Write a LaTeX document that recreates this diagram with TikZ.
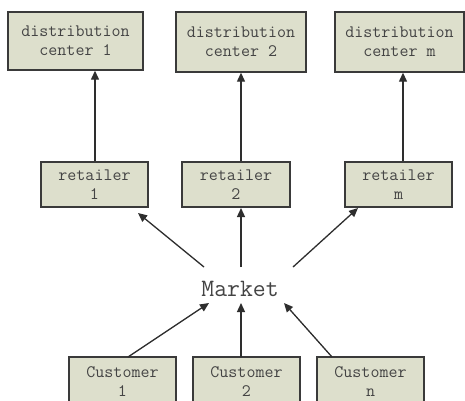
\documentclass[tikz,border=0pt]{standalone}
\usetikzlibrary{arrows.meta}
\definecolor{boxfill}{HTML}{DDDFCC}
\definecolor{boxline}{HTML}{3A3A3A}
\definecolor{arrowcol}{HTML}{2E2E2E}
\definecolor{textcol}{HTML}{444444}
\begin{document}
\begin{tikzpicture}[x=1pt,y=-1pt,
  boxnode/.style={draw=boxline,line width=1.4pt,fill=boxfill,inner sep=0pt,
    align=center,font=\fontsize{17.5}{19}\selectfont\ttfamily,text=textcol},
  marketnode/.style={inner sep=0pt,font=\fontsize{25}{28}\selectfont\ttfamily,text=textcol},
  conn/.style={draw=arrowcol,line width=1.3pt,-{Triangle[length=9pt,width=8pt]}}]
\useasboundingbox (0,0) rectangle (465,400);
\clip (0,0) rectangle (465,400);
\fill[white] (0,0) rectangle (465,400);
% distribution centers
\node[boxnode,minimum width=135pt,minimum height=58pt] (dc1) at (75.5,41) {distribution\\center 1};
\node[boxnode,minimum width=130pt,minimum height=60pt] (dc2) at (241,42) {distribution\\center 2};
\node[boxnode,minimum width=129pt,minimum height=60pt] (dc3) at (399.5,42) {distribution\\center m};
% retailers
\node[boxnode,minimum width=107pt,minimum height=45pt] (r1) at (94.5,184.5) {retailer\\1};
\node[boxnode,minimum width=108pt,minimum height=45pt] (r2) at (236,184.5) {retailer\\2};
\node[boxnode,minimum width=107pt,minimum height=45pt] (r3) at (398.5,184.5) {retailer\\m};
% market
\node[marketnode] (mk) at (240,289) {Market};
% customers (boxes run past the lower edge, as in the reference)
\node[boxnode,minimum width=107pt,minimum height=50pt] (c1) at (122.5,382) {Customer\\1};
\node[boxnode,minimum width=107pt,minimum height=50pt] (c2) at (246.5,382) {Customer\\2};
\node[boxnode,minimum width=107pt,minimum height=50pt] (c3) at (370.5,382) {Customer\\n};
% connector end points
\coordinate (mr1) at (204,267);
\coordinate (mr2) at (241,267);
\coordinate (mr3) at (293,267);
\coordinate (tr1) at (138,213);
\coordinate (tr2) at (241,208);
\coordinate (tr3) at (358,208);
\coordinate (mc1) at (209,303);
\coordinate (mc2) at (241,303);
\coordinate (mc3) at (284,303);
\coordinate (sc1) at (128,357);
\coordinate (sc2) at (241,357);
\coordinate (sc3) at (332,357);
% retailer -> distribution center
\draw[conn] (r1.north -| 95,0) -- (dc1.south -| 95,0);
\draw[conn] (r2.north -| 241,0) -- (dc2.south -| 241,0);
\draw[conn] (r3.north -| 403,0) -- (dc3.south -| 403,0);
% market -> retailers
\draw[conn] (mr1) -- (tr1);
\draw[conn] (mr2) -- (tr2);
\draw[conn] (mr3) -- (tr3);
% customers -> market
\draw[conn] (sc1) -- (mc1);
\draw[conn] (sc2) -- (mc2);
\draw[conn] (sc3) -- (mc3);
\end{tikzpicture}
\end{document}
